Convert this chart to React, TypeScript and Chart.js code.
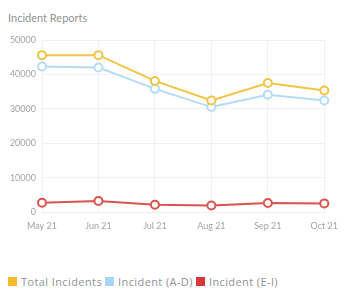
import React, { useEffect, useRef } from "react";
import { Chart, registerables } from "chart.js";

Chart.register(...registerables);

const categories = ["May 21", "Jun 21", "Jul 21", "Aug 21", "Sep 21", "Oct 21"];
const totalIncidents = [45600, 45600, 38100, 32400, 37500, 35300];
const incidentAD = [42300, 42000, 35800, 30500, 34100, 32400];
const incidentEI = [2700, 3200, 2100, 1900, 2600, 2500];
const yTicks = [0, 10000, 20000, 30000, 40000, 50000];

const seriesNames = ["Total Incidents", "Incident (A-D)", "Incident (E-I)"];
const lineColors = ["#f0c445", "#b5dcf6", "#d9534f"];
const legendColors = ["#f2bb2e", "#a9d5f3", "#d9373a"];

const FONT = "Lato, 'Open Sans', sans-serif";

export default function App() {
  const ref = useRef<HTMLCanvasElement | null>(null);

  useEffect(() => {
    if (!ref.current) return;
    const data = [totalIncidents, incidentAD, incidentEI];
    const chart = new Chart(ref.current, {
      type: "line",
      data: {
        labels: categories,
        datasets: data.map((d, i) => ({
          label: seriesNames[i],
          data: d,
          borderColor: lineColors[i],
          backgroundColor: "#ffffff",
          pointBackgroundColor: "#ffffff",
          pointBorderColor: lineColors[i],
          pointBorderWidth: 2,
          pointRadius: 4,
          borderWidth: 2,
          tension: 0,
          fill: false,
        })),
      },
      options: {
        animation: false,
        responsive: false,
        maintainAspectRatio: false,
        layout: { padding: { top: 12, right: 17, left: 0, bottom: 0 } },
        plugins: {
          legend: { display: false },
          title: { display: false },
          tooltip: { enabled: false },
        },
        scales: {
          x: {
            grid: { color: "#f1f1f1", drawTicks: false },
            border: { color: "#f1f1f1" },
            ticks: {
              color: "#a3a3a3",
              font: { family: FONT, size: 9 },
              padding: 9,
              maxRotation: 0,
              autoSkip: false,
            },
            afterFit: (s: any) => {
              s.height = 26;
            },
          },
          y: {
            min: 0,
            max: 50000,
            afterBuildTicks: (s: any) => {
              s.ticks = yTicks.map((v) => ({ value: v }));
            },
            grid: { color: "#f1f1f1", drawTicks: false },
            border: { color: "#f1f1f1" },
            ticks: {
              color: "#a3a3a3",
              font: { family: FONT, size: 9 },
              padding: 6,
              callback: (v: any) => String(v),
            },
            afterFit: (s: any) => {
              s.width = 42;
            },
          },
        },
      },
    });
    return () => chart.destroy();
  }, []);

  return (
    <div
      style={{
        position: "absolute",
        left: 0,
        top: 0,
        width: 347,
        height: 292,
        background: "#ffffff",
        fontFamily: FONT,
      }}
    >
      <div
        style={{
          position: "absolute",
          left: 8,
          top: 8,
          height: 20,
          lineHeight: "20px",
          fontSize: 11,
          color: "#929292",
        }}
      >
        Incident Reports
      </div>
      <canvas
        ref={ref}
        width={347}
        height={210}
        style={{ position: "absolute", left: 0, top: 28, width: 347, height: 210 }}
      />
      <div
        style={{
          position: "absolute",
          left: 8,
          top: 274,
          height: 14,
          display: "flex",
          alignItems: "center",
          fontSize: 11,
          fontFamily: "'Open Sans', sans-serif",
          letterSpacing: 0.4,
          color: "#929292",
          whiteSpace: "nowrap",
        }}
      >
        {seriesNames.map((n, i) => (
          <span key={n} style={{ display: "flex", alignItems: "center", marginRight: 3 }}>
            <span
              style={{
                display: "inline-block",
                width: 9,
                height: 9,
                background: legendColors[i],
                marginRight: 4,
              }}
            />
            {n}
          </span>
        ))}
      </div>
    </div>
  );
}
